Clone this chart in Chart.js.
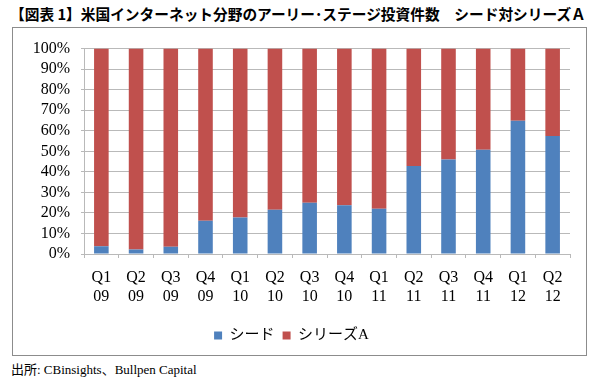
<!DOCTYPE html>
<html>
<head>
<meta charset="utf-8">
<script src="https://cdn.jsdelivr.net/npm/chart.js@4"></script>
<style>
  body { margin: 0; background: #fff; width: 600px; height: 385px; position: relative; overflow: hidden; }
  #title { position: absolute; left: 10px; top: 4px; white-space: nowrap; font-family: "Noto Sans CJK JP", sans-serif; font-weight: bold; font-size: 15px; line-height: 20px; color: #000; transform-origin: left top; }
  #frame { position: absolute; left: 12px; top: 27px; width: 573px; height: 327px; border: 1px solid #8c8c8c; }
  #source { position: absolute; left: 11px; top: 362px; white-space: nowrap; font-family: "Liberation Serif", "Noto Sans CJK JP", serif; font-size: 13px; line-height: 16px; color: #000; }
</style>
</head>
<body>
<div id="title">【図表 1】米国インターネット分野のアーリー･ステージ投資件数　シード対シリーズＡ</div>
<div id="frame"><canvas id="chart" width="573" height="327"></canvas></div>
<div id="source">出所: CBinsights、Bullpen Capital</div>
<script>
// quarters on the x axis (two-line labels)
const quarters = ['Q1', 'Q2', 'Q3', 'Q4', 'Q1', 'Q2', 'Q3', 'Q4', 'Q1', 'Q2', 'Q3', 'Q4', 'Q1', 'Q2'];
const years = ['09', '09', '09', '09', '10', '10', '10', '10', '11', '11', '11', '11', '12', '12'];

// share of deals (%)
const seedShare = [3.8, 2.2, 3.5, 16.2, 17.8, 21.5, 25, 23.7, 22, 42.8, 46, 50.8, 64.9, 57.4];
const seriesAShare = [96.2, 97.8, 96.5, 83.8, 82.2, 78.5, 75, 76.3, 78, 57.2, 54, 49.2, 35.1, 42.6];

const yTicks = [0, 10, 20, 30, 40, 50, 60, 70, 80, 90, 100];

const serif = "'Liberation Serif', 'Noto Sans CJK JP', serif";
const gridGray = '#b9b9b9';

// fit the title to the width of the original
const titleEl = document.getElementById('title');
const wantWidth = 576;
titleEl.style.transform = 'scaleX(' + (wantWidth / titleEl.offsetWidth) + ')';

new Chart(document.getElementById('chart'), {
    type: 'bar',
    data: {
        labels: quarters.map((q, i) => [q, years[i]]),
        datasets: [
            { label: 'シード', data: seedShare, backgroundColor: '#4f81bd' },
            { label: 'シリーズA', data: seriesAShare, backgroundColor: '#c0504d' }
        ]
    },
    options: {
        responsive: false,
        animation: false,
        layout: { padding: { top: 13, right: 16, bottom: 2, left: 0 } },
        datasets: { bar: { categoryPercentage: 1, barPercentage: 0.42 } },
        plugins: {
            legend: {
                position: 'bottom',
                labels: {
                    boxWidth: 8,
                    boxHeight: 8,
                    padding: 8,
                    color: '#000',
                    font: { family: serif, size: 15 }
                }
            },
            tooltip: { enabled: false }
        },
        scales: {
            x: {
                stacked: true,
                afterFit: (scale) => { scale.height = 66; },
                grid: { drawOnChartArea: false, color: gridGray, tickLength: 4 },
                border: { color: gridGray },
                ticks: {
                    color: '#000',
                    padding: 11,
                    maxRotation: 0,
                    autoSkip: false,
                    font: { family: serif, size: 16, lineHeight: 1.15 }
                }
            },
            y: {
                stacked: true,
                min: 0,
                max: 100,
                afterFit: (scale) => { scale.width = 71; },
                afterBuildTicks: (scale) => { scale.ticks = yTicks.map(v => ({ value: v })); },
                grid: { color: gridGray, tickLength: 3 },
                border: { color: gridGray },
                ticks: {
                    color: '#000',
                    padding: 11,
                    autoSkip: false,
                    stepSize: 10,
                    font: { family: serif, size: 16 },
                    callback: (v) => v + '%'
                }
            }
        }
    }
});
</script>
</body>
</html>
